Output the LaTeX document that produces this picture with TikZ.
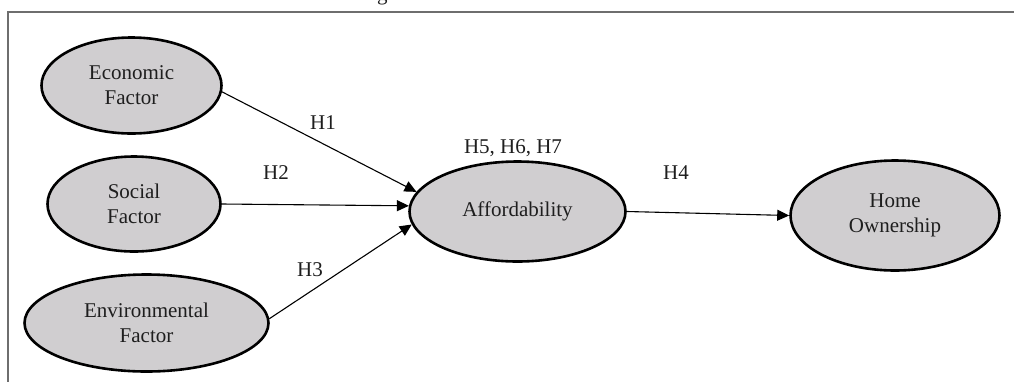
\documentclass[tikz,border=0pt]{standalone}
\usepackage{fontspec}
\setmainfont{Liberation Serif}
\usetikzlibrary{arrows.meta,shapes.geometric}
\definecolor{fillgray}{RGB}{208,206,208}
\definecolor{framegray}{RGB}{110,110,110}
\definecolor{txt}{RGB}{30,30,30}
\begin{document}
\begin{tikzpicture}[x=1pt,y=-1pt,
  construct/.style={ellipse, draw=black, line width=2.6pt, fill=fillgray, inner sep=0pt,
    align=center, text=txt, font=\fontsize{21}{25}\selectfont},
  hlabel/.style={text=txt, font=\fontsize{21}{25}\selectfont, inner sep=0pt},
  link/.style={-{Triangle[length=12pt,width=11pt]}, line width=1.1pt, black}]
\useasboundingbox (0,0) rectangle (1014,381);
% frame
\draw[framegray, line width=1.5pt] (8,383) -- (8,12) -- (1016,12);
% cut-off title fragment
\node[hlabel, anchor=base west] (title) at (377,0.5) {g};
% constructs
\node[construct, minimum width=180pt, minimum height=96pt] (eco) at (131.5,85.5) {Economic\\Factor};
\node[construct, minimum width=173pt, minimum height=95pt] (soc) at (134,204) {Social\\Factor};
\node[construct, minimum width=244pt, minimum height=97pt] (env) at (146.5,323) {Environmental\\Factor};
\node[construct, minimum width=216pt, minimum height=100pt] (aff) at (517.5,211.5) {Affordability};
\node[construct, minimum width=209pt, minimum height=110pt] (home) at (895,215.5) {Home\\Ownership};
% connectors
\draw[link] (eco.-4) -- (aff.169);
\draw[link] (soc.east) -- (aff.177);
\draw[link] (env.2) -- (aff.187);
\draw[link] (aff.east) -- (home.west);
% labels
\node[hlabel] (h1) at (323,123) {H1};
\node[hlabel] (h2) at (276,173) {H2};
\node[hlabel] (h3) at (310,270) {H3};
\node[hlabel] (h567) at (513,148) {H5, H6, H7};
\node[hlabel] (h4) at (676,173) {H4};
\end{tikzpicture}
\end{document}
